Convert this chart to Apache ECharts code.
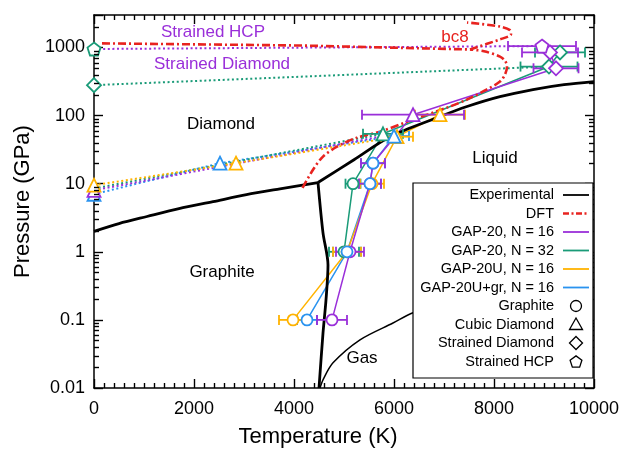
<!DOCTYPE html>
<html>
<head>
<meta charset="utf-8">
<script src="https://cdn.jsdelivr.net/npm/echarts@6/dist/echarts.min.js"></script>
<style>
html,body{margin:0;padding:0;background:#fff}
#chart{width:625px;height:450px}
</style>
</head>
<body>
<div id="chart"></div>
<script>
// ---- Phase boundaries: [temperature (K), pressure (GPa)] ----
const expGraphiteDiamond = [[0,2.0],[500,2.6],[1060,3.3],[1700,4.3],[2380,5.45],[3050,6.9],[3720,8.4],[4480,10.4]];
const expDiamondLiquid = [[4480,10.4],[5200,22.5],[5920,49],[6860,93],[7460,136],[8120,190],[8780,241],[9400,285],[10000,316]];
const expGraphiteLiquid = [[4480,10.4],[4580,1.9],[4680,0.64],[4640,0.197],[4580,0.064],[4500,0.01]];
const expGas = [[4520,0.01],[4580,0.0132],[4780,0.0234],[5320,0.051],[5980,0.09],[6380,0.127],[7200,0.19],[8000,0.25]];

const dftMelt = [[4170,8.7],[4380,16],[4580,25],[4860,35],[5260,47.5],[5720,58],[6380,87.5],[7060,131],[7460,172],[7850,240],[8120,316],[8220,400],[8260,524],[8220,640],[8120,735],[7800,880],[7520,935]];
const dftDiamondBc8 = [[160,1150],[4120,1070],[7520,935]];
const dftBc8Melt = [[7520,935],[8120,1317],[8340,1560],[8320,1800],[8120,2030],[7460,2330]];

// ---- Simulated melting points: [T (K), P (GPa), T error (K), structure] ----
// structure: g = graphite, c = cubic diamond, d = strained diamond, h = strained hcp
const gap20N16 = [[4760,0.1,300,'g'],[5120,1,280,'g'],[5520,10,220,'g'],[5580,20,240,'g'],[6380,103,1020,'c'],[9240,495,450,'d'],[9120,845,560,'d'],[8960,1050,680,'h']];
const gap20N32 = [[5000,1,300,'g'],[5180,10,150,'g'],[5780,54,400,'c'],[9100,525,570,'d'],[9320,845,500,'d']];
const gap20U = [[3980,0.1,280,'g'],[5060,1,280,'g'],[5560,10,240,'g'],[6060,49,320,'c'],[6920,103,500,'c']];
const gap20Ugr = [[4260,0.1,200,'g'],[5060,1,280,'g'],[5520,10,220,'g'],[5580,20,240,'g'],[6000,50,300,'c']];

// ---- Solid-solid transition lines (dotted) ----
const gap20N16Trans = [[0,8,0,'c'],[5650,48,0,null]];
const gap20N32Trans = [[0,8.5,0,null],[5780,54,0,null]];
const gap20UTrans = [[0,9.5,0,'c'],[2840,20,0,'c'],[6060,49,0,null]];
const gap20UgrTrans = [[0,7,0,'c'],[2520,20,0,'c'],[6000,50,0,null]];
const gap20N32TransHigh = [[0,280,0,'d'],[9100,525,0,null]];
const gap20N32Hcp0 = [[0,950,0,'h']];
const gap20N16TransHcp = [[0,950,0,null],[8960,1050,0,null]];

// ---- Axis ticks ----
const xTicks = [0,2000,4000,6000,8000,10000];
const xMinorSplit = 10;
const yDecades = [0.01,0.1,1,10,100,1000];
const yMinorSteps = [2,3,4,5,6,7,8,9];
const yMax = 3000;

// ---- Legend rows ----
const legendLines = ['Experimental','DFT','GAP-20, N = 16','GAP-20, N = 32','GAP-20U, N = 16','GAP-20U+gr, N = 16'];
const legendShapes = ['Graphite','Cubic Diamond','Strained Diamond','Strained HCP'];

const FONT = '"Liberation Sans", Arial, sans-serif';
const TICK = '#000';
const C = {n16:'#9a2fd9', n32:'#1a9b78', u:'#ffb300', ugr:'#2a93ef', dft:'#e8231f', exp:'#000'};
const PENTAGON = 'path://M10,0 L19.51,6.91 L15.88,18.09 L4.12,18.09 L0.49,6.91 Z';
const SYMBOL = {g:'circle', c:'triangle', d:'diamond', h:PENTAGON};
const SIZE = {g:11, c:13, d:14, h:13};
const X_MIN = xTicks[0], X_MAX = xTicks[xTicks.length - 1], Y_MIN = yDecades[0];

const chart = echarts.init(document.getElementById('chart'));

function curve(data, color, width, dash, smooth, z) {
  return {type:'line', data:data.map(r => [r[0], r[1]]), symbol:'none', smooth:smooth || false,
    lineStyle:{color, width, type:dash || 'solid', cap:'butt'}, z:z, silent:true, animation:false};
}
function markers(rows, color) {
  return {type:'scatter', z:6, silent:true, animation:false,
    data: rows.filter(r => r[3]).map(r => ({value:[r[0], r[1]], symbol:SYMBOL[r[3]], symbolSize:SIZE[r[3]]})),
    itemStyle:{color:'#fff', borderColor:color, borderWidth:1.8, opacity:1}};
}
function errorBars(rows, color) {
  return {type:'custom', z:4, silent:true, animation:false,
    data: rows.filter(r => r[2] > 0).map(r => [r[0], r[1], r[2]]),
    encode:{x:0, y:1},
    renderItem: function (params, api) {
      const t = api.value(0), p = api.value(1), e = api.value(2);
      const a = api.coord([t - e, p]), b = api.coord([t + e, p]);
      const st = {stroke:color, lineWidth:1.8};
      return {type:'group', children:[
        {type:'line', shape:{x1:a[0], y1:a[1], x2:b[0], y2:b[1]}, style:st},
        {type:'line', shape:{x1:a[0], y1:a[1]-5, x2:a[0], y2:a[1]+5}, style:st},
        {type:'line', shape:{x1:b[0], y1:b[1]-5, x2:b[0], y2:b[1]+5}, style:st}
      ]};
    }};
}

// log-decade minor ticks on the left and right frame edges, placed through the axis scale
const yMinor = [];
yDecades.forEach(d => yMinorSteps.forEach(m => { if (m * d < yMax) yMinor.push([X_MIN, m * d]); }));
const minorTickY = {type:'custom', z:7, silent:true, animation:false,
  data: yMinor, encode:{x:0, y:1},
  renderItem: function (params, api) {
    const v = api.value(1);
    const l = api.coord([X_MIN, v]), r = api.coord([X_MAX, v]);
    const y = Math.round(l[1]) + 0.5;
    const st = {stroke:TICK, lineWidth:1.4};
    return {type:'group', children:[
      {type:'line', shape:{x1:l[0], y1:y, x2:l[0] + 5, y2:y}, style:st},
      {type:'line', shape:{x1:r[0] - 5, y1:y, x2:r[0], y2:y}, style:st}
    ]};
  }};

const dotted = [2, 2.6];
const series = [
  minorTickY,
  // transitions
  curve(gap20N32TransHigh, C.n32, 2, dotted, false, 2),
  curve(gap20N16TransHcp, C.n16, 2, dotted, false, 2),
  curve(gap20UgrTrans, C.ugr, 2, dotted, false, 2),
  curve(gap20N32Trans, C.n32, 2, dotted, false, 2),
  curve(gap20N16Trans, C.n16, 2, dotted, false, 2),
  curve(gap20UTrans, C.u, 2, dotted, false, 2),
  // model melting lines
  curve(gap20N32, C.n32, 1.5, 'solid', false, 2),
  curve(gap20Ugr, C.ugr, 1.5, 'solid', false, 2),
  curve(gap20U, C.u, 1.5, 'solid', false, 2),
  curve(gap20N16, C.n16, 1.5, 'solid', false, 2),
  // experiment
  curve(expGraphiteDiamond, C.exp, 2.8, 'solid', 0.3, 3),
  curve(expDiamondLiquid, C.exp, 2.8, 'solid', 0.3, 3),
  curve(expGraphiteLiquid, C.exp, 2.8, 'solid', 0.3, 3),
  curve(expGas, C.exp, 1.5, 'solid', 0.3, 3),
  // DFT
  curve(dftMelt, C.dft, 2.6, [8, 3, 2, 3], 0.3, 3),
  curve(dftDiamondBc8, C.dft, 2.6, [8, 3, 2, 3], false, 3),
  curve(dftBc8Melt, C.dft, 2.6, [8, 3, 2, 3], 0.3, 3),
  // error bars
  errorBars(gap20N32, C.n32), errorBars(gap20Ugr, C.ugr), errorBars(gap20U, C.u), errorBars(gap20N16, C.n16),
  // symbols
  markers(gap20N32TransHigh, C.n32), markers(gap20N32Hcp0, C.n32),
  markers(gap20UgrTrans, C.ugr), markers(gap20N16Trans, C.n16), markers(gap20UTrans, C.u),
  markers(gap20N32, C.n32), markers(gap20U, C.u), markers(gap20N16, C.n16), markers(gap20Ugr, C.ugr)
];

function xAxis(pos, withLabels) {
  return {type:'value', min:X_MIN, max:X_MAX, interval:xTicks[1] - xTicks[0], position:pos,
    axisLine:{show:true, onZero:false, lineStyle:{color:'#000', width:1.5}},
    axisTick:{show:true, inside:true, length:9, lineStyle:{color:TICK, width:1.4}},
    minorTick:{show:true, splitNumber:xMinorSplit, length:5, lineStyle:{color:TICK, width:1.4}},
    splitLine:{show:false}, minorSplitLine:{show:false},
    axisLabel:{show:withLabels, color:'#000', fontSize:18, fontFamily:FONT, margin:12, formatter: v => String(v)},
    name: withLabels ? 'Temperature (K)' : '', nameLocation:'middle', nameGap:38,
    nameTextStyle:{color:'#000', fontSize:22, fontFamily:FONT, padding:[0, 52, 0, 0]}};
}
function yAxis(pos, withLabels) {
  return {type:'log', logBase:10, min:Y_MIN, max:yMax, position:pos,
    axisLine:{show:true, onZero:false, lineStyle:{color:'#000', width:1.5}},
    axisTick:{show:true, inside:true, length:9, lineStyle:{color:TICK, width:1.4}},
    splitLine:{show:false},
    axisLabel:{show:withLabels, color:'#000', fontSize:18, fontFamily:FONT, margin:9,
      formatter: v => { const l = Math.log10(v); return Math.abs(l - Math.round(l)) > 1e-6 ? '' : String(Math.pow(10, Math.round(l))); }},
    name: withLabels ? 'Pressure (GPa)' : '', nameLocation:'middle', nameGap:51,
    nameTextStyle:{color:'#000', fontSize:22, fontFamily:FONT}};
}

// annotations and legend
const graphics = [];
function label(text, x, y, color) {
  graphics.push({type:'text', z:50, silent:true, style:{text, x, y, fill:color || '#000', font:'17px ' + FONT, align:'center', verticalAlign:'middle'}});
}
label('Strained HCP', 213, 32, C.n16);
label('Strained Diamond', 222, 64, C.n16);
label('bc8', 455, 37, C.dft);
label('Diamond', 221, 124);
label('Liquid', 495, 158);
label('Graphite', 222, 272);
label('Gas', 362, 358);

const LX = 413, LY = 183, LW = 180, LH = 195, TX = 554, S1 = 563, S2 = 589, SC = 576, ROW0 = 195, STEP = 18.5;
graphics.push({type:'rect', z:60, silent:true, shape:{x:LX, y:LY, width:LW, height:LH}, style:{fill:'#fff', stroke:'#000', lineWidth:1.2}});
const lineStyles = [
  {stroke:C.exp, lineWidth:1.8}, {stroke:C.dft, lineWidth:2.4, lineDash:[6, 2.5, 2, 2.5]},
  {stroke:C.n16, lineWidth:1.8}, {stroke:C.n32, lineWidth:1.8}, {stroke:C.u, lineWidth:1.8}, {stroke:C.ugr, lineWidth:1.8}
];
legendLines.forEach((t, i) => {
  const y = ROW0 + i * STEP;
  graphics.push({type:'text', z:61, silent:true, style:{text:t, x:TX, y, fill:'#000', font:'14.5px ' + FONT, align:'right', verticalAlign:'middle'}});
  graphics.push({type:'line', z:61, silent:true, shape:{x1:S1, y1:y, x2:S2, y2:y}, style:lineStyles[i]});
});
const keyStyle = {fill:'#fff', stroke:'#000', lineWidth:1.3};
legendShapes.forEach((t, i) => {
  const y = ROW0 + (i + legendLines.length) * STEP;
  graphics.push({type:'text', z:61, silent:true, style:{text:t, x:TX, y, fill:'#000', font:'14.5px ' + FONT, align:'right', verticalAlign:'middle'}});
  let key;
  if (i === 0) key = {type:'circle', shape:{cx:SC, cy:y, r:5.5}};
  else if (i === 1) key = {type:'polygon', shape:{points:[[SC, y - 6.5], [SC + 6.5, y + 5], [SC - 6.5, y + 5]]}};
  else if (i === 2) key = {type:'polygon', shape:{points:[[SC, y - 6.5], [SC + 6.5, y], [SC, y + 6.5], [SC - 6.5, y]]}};
  else {
    const pts = [];
    for (let k = 0; k < 5; k++) { const a = -Math.PI / 2 + k * 2 * Math.PI / 5; pts.push([SC + 6.2 * Math.cos(a), y + 0.6 + 6.2 * Math.sin(a)]); }
    key = {type:'polygon', shape:{points:pts}};
  }
  key.z = 61; key.silent = true; key.style = keyStyle;
  graphics.push(key);
});

chart.setOption({
  animation:false,
  backgroundColor:'#fff',
  textStyle:{fontFamily:FONT},
  grid:{left:94, right:31, top:15, bottom:62, containLabel:false, outerBoundsMode:'none'},
  xAxis:[xAxis('bottom', true), xAxis('top', false)],
  yAxis:[yAxis('left', true), yAxis('right', false)],
  series:series,
  graphic:graphics
});
</script>
</body>
</html>
